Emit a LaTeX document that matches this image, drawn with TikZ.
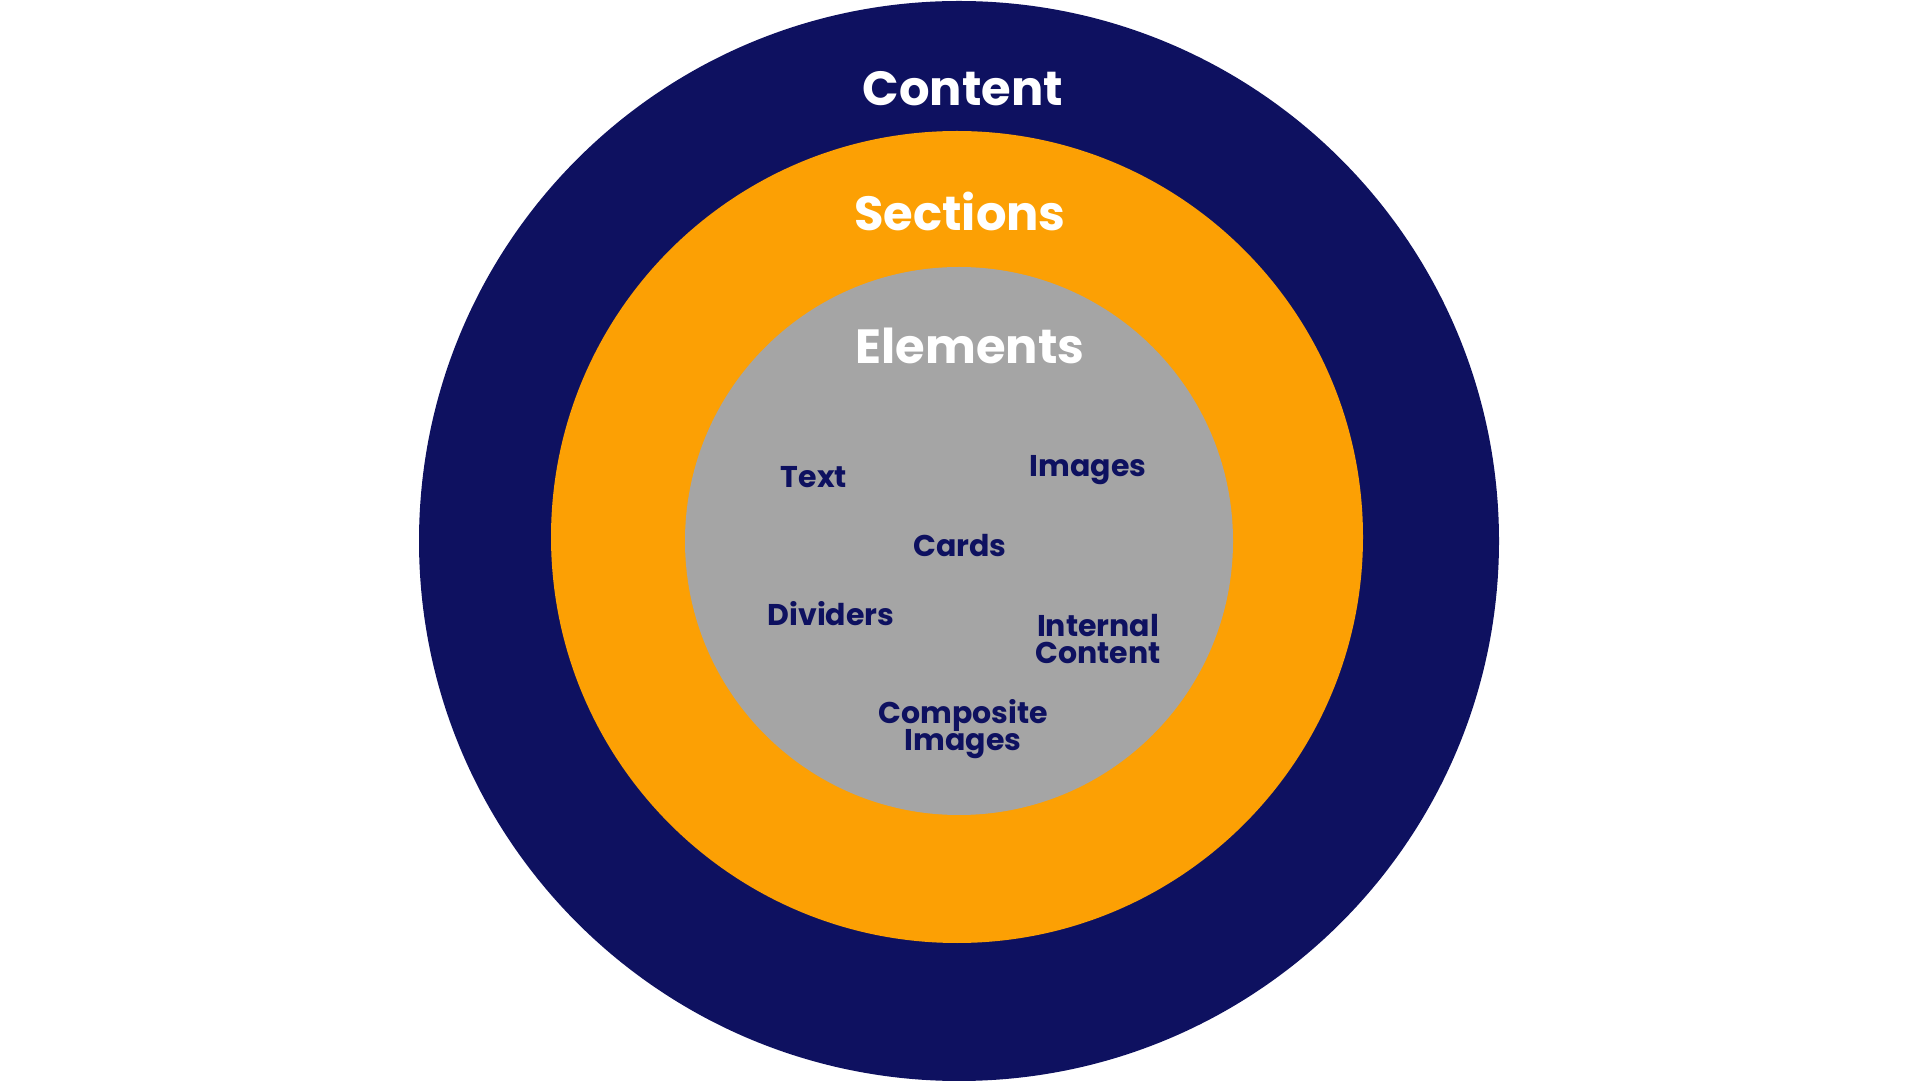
\documentclass[tikz,border=0pt]{standalone}
\usepackage{fontspec}
\setmainfont{Poppins}
\usepackage{xcolor}
\usepackage{tikz}
\usetikzlibrary{positioning}
\definecolor{navy}{HTML}{0E1160}
\definecolor{amber}{HTML}{FCA004}
\definecolor{stone}{HTML}{A5A5A5}
\newcommand\tightlines{\lineskiplimit=-50pt\relax}
\tikzset{
  ring/.style={draw=none},
  hdr/.style={font=\fontsize{48}{54}\selectfont\bfseries, text=white, inner sep=0pt, anchor=base},
  item/.style={font=\fontsize{30}{27}\selectfont\bfseries\tightlines, text=navy, align=center, inner sep=0pt},
}

\begin{document}
\begin{tikzpicture}[x=1pt, y=1pt]
  \useasboundingbox (0,0) rectangle (1920,1080);
  \coordinate (mid) at (959,539);
  % rings
  \fill[ring, navy] (mid) circle[radius=540];
  \fill[ring, amber] (957,543) circle[radius=406];
  \fill[ring, stone] (mid) circle[radius=274];
  % layer titles
  \node[hdr] (content) at (963,974) {Content};
  \node[hdr] (sections) at (960,849) {Sections};
  \node[hdr] (elements) at (970,716) {Elements};
  % elements
  \node[item, anchor=base] (text) at (814,592) {Text};
  \node[item, anchor=base] (images) at (1088,603) {Images};
  \node[item, anchor=base] (cards) at (960,523) {Cards};
  \node[item, anchor=base] (dividers) at (831,454) {Dividers};
  \node[item] (internal) at (1098,441) {Internal\\Content};
  \node[item] (composite) at (963,351) {Composite\\Images};
\end{tikzpicture}
\end{document}
